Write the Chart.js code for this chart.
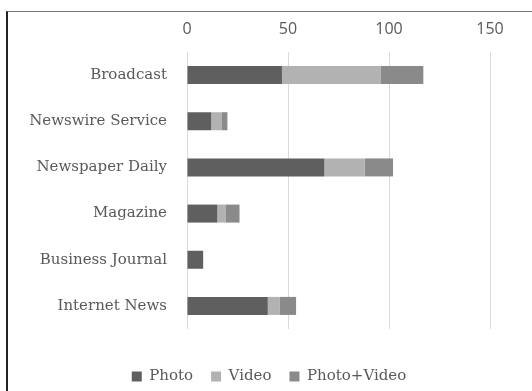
<!DOCTYPE html>
<html>
<head>
<meta charset="utf-8">
<script src="https://cdn.jsdelivr.net/npm/chart.js@4"></script>
<style>
  body { margin: 0; background: #fff; }
  #wrap { position: relative; width: 532px; height: 391px; overflow: hidden; }
  #frame {
    position: absolute; left: 6px; top: 11px; width: 600px; height: 500px;
    border-top: 1px solid #777; border-left: 2px solid #222;
  }
  canvas { position: absolute; left: 0; top: 0; }
</style>
</head>
<body>
<div id="wrap">
  <div id="frame"></div>
  <canvas id="outletChart" width="532" height="391"></canvas>
</div>
<script>
// outlet types and how many stories of each kind they ran
const outlets = ['Broadcast', 'Newswire Service', 'Newspaper Daily', 'Magazine', 'Business Journal', 'Internet News'];
const photo = [47, 12, 68, 15, 8, 40];
const video = [49, 5, 20, 4, 0, 6];
const photoVideo = [21, 3, 14, 7, 0, 8];
const xTicks = [0, 50, 100, 150];

const labelColor = '#595959';
const serif = 'DejaVu Serif';

// legend sits a little right of the layout centre
const legendShift = {
  id: 'legendShift',
  afterLayout(chart) {
    chart.legend.left += 24;
    chart.legend.right += 24;
  }
};

var ctx = document.getElementById('outletChart').getContext('2d');

var outletChart = new Chart(ctx, {
  type: 'bar',
  data: {
    labels: outlets,
    datasets: [{
      label: 'Photo',
      data: photo,
      backgroundColor: '#5f5f5f'
    }, {
      label: 'Video',
      data: video,
      backgroundColor: '#b2b2b2'
    }, {
      label: 'Photo+Video',
      data: photoVideo,
      backgroundColor: '#8a8a8a'
    }]
  },
  plugins: [legendShift],
  options: {
    responsive: false,
    animation: false,
    indexAxis: 'y',
    datasets: {
      bar: {
        categoryPercentage: 1,
        barPercentage: 0.39,
        borderWidth: 0
      }
    },
    layout: {
      padding: { left: 0, right: 42, top: 12, bottom: -3 }
    },
    plugins: {
      tooltip: { enabled: false },
      legend: {
        position: 'bottom',
        title: {
          display: true,
          text: '',
          font: { size: 1, lineHeight: 1 },
          padding: { top: 21, bottom: 0 }
        },
        labels: {
          color: labelColor,
          boxWidth: 10,
          boxHeight: 10,
          padding: 18,
          font: { family: serif, size: 15 }
        }
      }
    },
    scales: {
      x: {
        position: 'top',
        stacked: true,
        min: 0,
        max: 150,
        afterBuildTicks: (axis) => {
          axis.ticks = xTicks.map(v => ({ value: v }));
        },
        afterFit: (axis) => {
          axis.height = 40;
        },
        border: { display: false },
        grid: {
          color: '#d9d9d9',
          lineWidth: 1,
          drawTicks: false
        },
        ticks: {
          color: labelColor,
          padding: 13,
          font: { family: 'Open Sans', size: 16 }
        }
      },
      y: {
        stacked: true,
        afterFit: (axis) => {
          axis.width = 187;
        },
        border: { display: false },
        grid: {
          display: false,
          drawTicks: false
        },
        ticks: {
          color: labelColor,
          padding: 20,
          font: { family: serif, size: 15 }
        }
      }
    }
  }
});
</script>
</body>
</html>
